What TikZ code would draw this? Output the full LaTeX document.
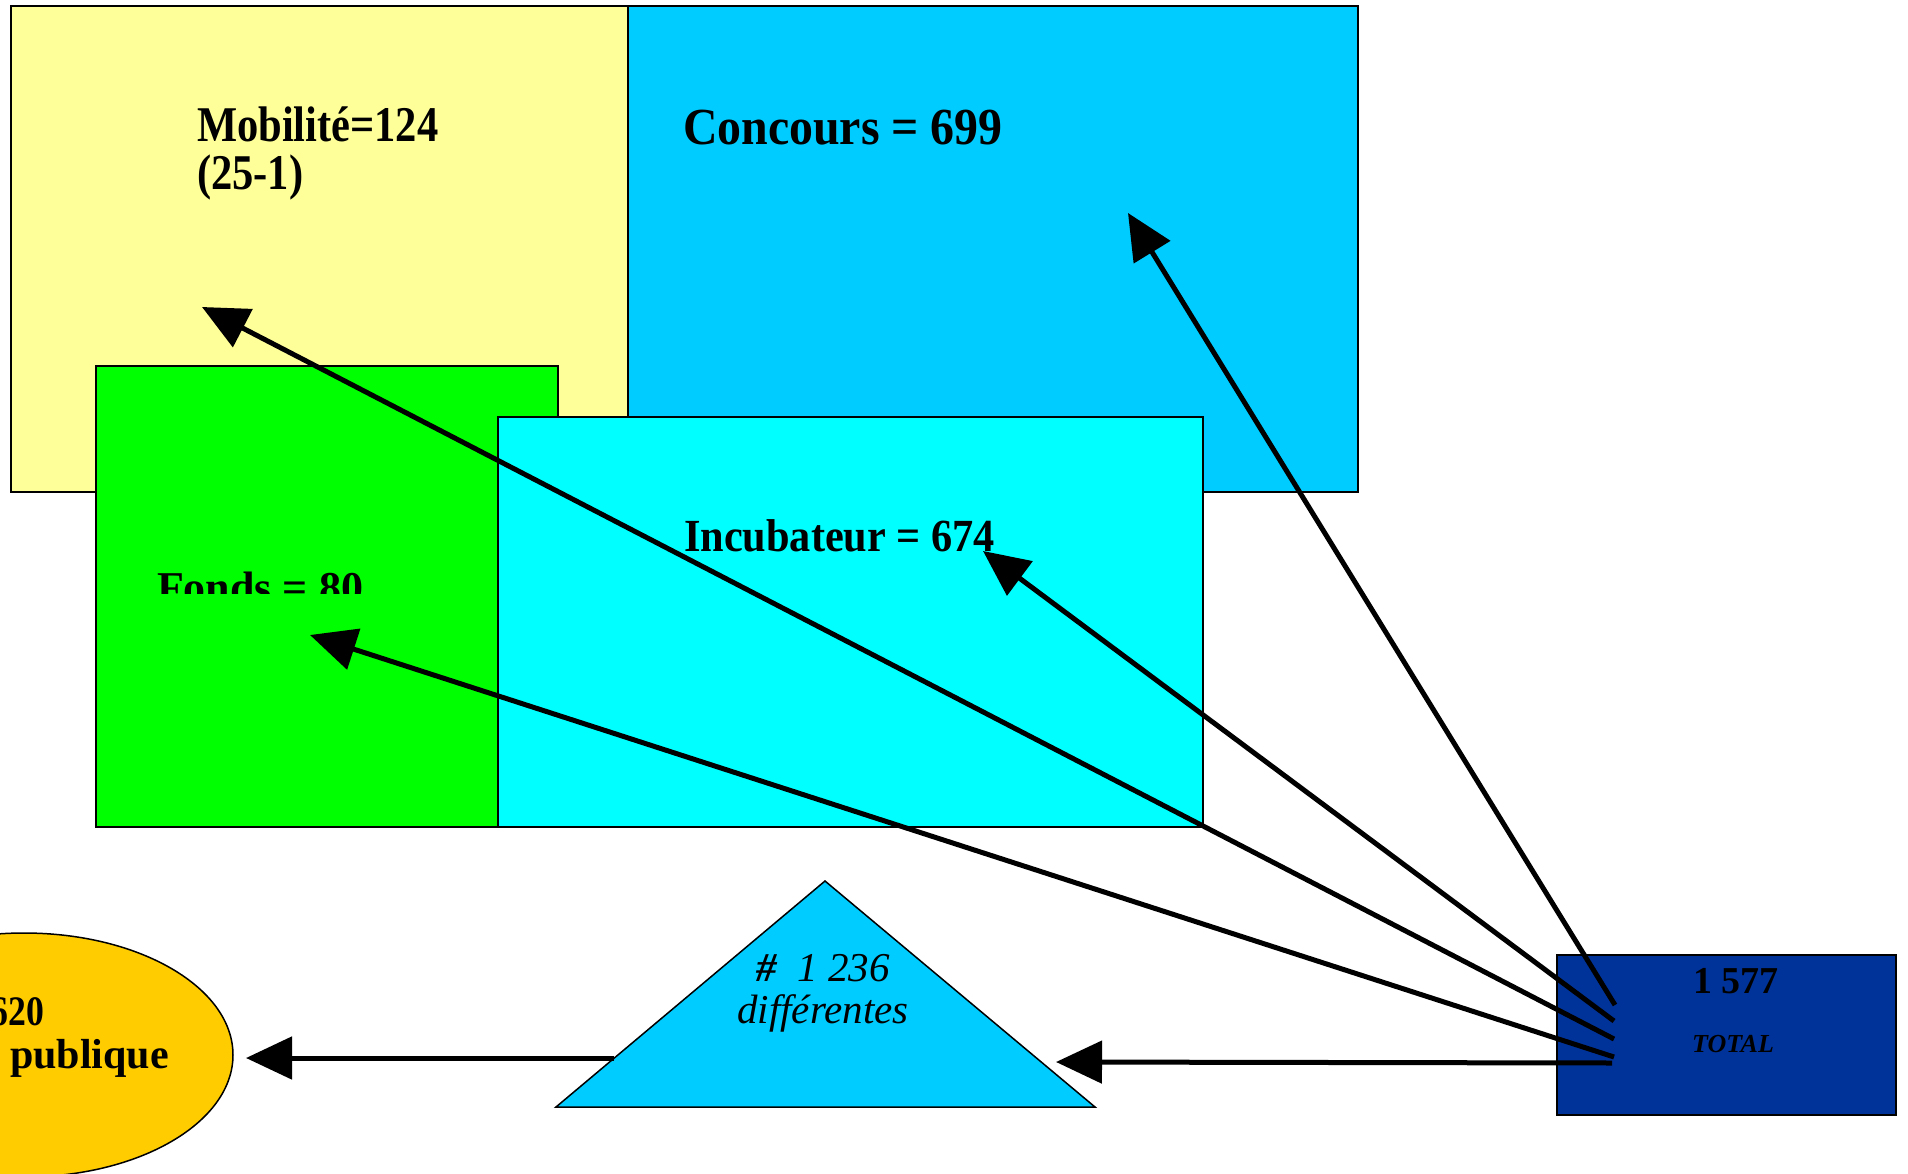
\documentclass[tikz,border=0pt]{standalone}
\usepackage{fontspec}
\setmainfont{Liberation Serif}
\newfontfamily\narrowA[FakeStretch=0.85]{Liberation Serif}
\newfontfamily\narrowB[FakeStretch=0.92]{Liberation Serif}
\usetikzlibrary{arrows.meta,shapes.geometric}
\definecolor{cYellow}{HTML}{FFFF99}
\definecolor{cConc}{HTML}{00CCFF}
\definecolor{cGreen}{HTML}{00FF00}
\definecolor{cCyan}{HTML}{00FFFF}
\definecolor{cDark}{HTML}{003399}
\definecolor{cGold}{HTML}{FFCC00}
\begin{document}
\begin{tikzpicture}[x=1pt,y=-1pt,
  box/.style={draw=black,line width=1.5pt,inner sep=0pt,outer sep=0pt,rectangle,anchor=north west},
  conn/.style={line width=5pt,-{Triangle[length=46pt,width=42pt]}},
  lbl/.style={inner sep=0pt,outer sep=0pt,anchor=base west},
  lblc/.style={inner sep=0pt,outer sep=0pt,anchor=base},
  lble/.style={inner sep=0pt,outer sep=0pt,anchor=base east}]
\useasboundingbox (0,0) rectangle (1908,1174);
\clip (0,0) rectangle (1908,1174);
\fill[white] (0,0) rectangle (1908,1174);

% boxes
\node[box,fill=cConc,minimum width=862pt,minimum height=486pt] (conc) at (496,6) {};
\node[box,fill=cYellow,minimum width=617pt,minimum height=486pt] (mob) at (11,6) {};
\node[box,fill=cGreen,minimum width=462pt,minimum height=461pt] (fonds) at (96,366) {};
\node[box,fill=cCyan,minimum width=705pt,minimum height=410pt] (incub) at (498,417) {};

% labels
\node[lbl,font=\narrowA\bfseries\fontsize{50}{50}\selectfont] (mobA) at (197,142) {Mobilité=124};
\node[lbl,font=\narrowA\bfseries\fontsize{50}{50}\selectfont] (mobB) at (197,190) {(25-1)};
\node[lbl,font=\narrowB\bfseries\fontsize{52}{52}\selectfont] (concT) at (683,145) {Concours = 699};
\node[lbl,font=\narrowB\bfseries\fontsize{46}{46}\selectfont] (incT) at (684,551) {Incubateur = 674};
\begin{scope}
\clip (96,366) rectangle (558,593);
\node[lbl,font=\bfseries\fontsize{44}{44}\selectfont] (fondsT) at (157,602) {Fonds = 80};
\end{scope}

% triangle
\coordinate (triL) at (556,1107);
\coordinate (triR) at (1095,1107);
\coordinate (triT) at (825,881);
\filldraw[fill=cConc,draw=black,line width=1.5pt] (triL) -- (triT) -- (triR) -- cycle;
\node[lblc,font=\itshape\fontsize{41}{41}\selectfont] (triA) at (823,981) {\textbf{\#}\ \ 1 236};
\node[lblc,font=\itshape\fontsize{41}{41}\selectfont] (triB) at (823,1023) {différentes};

% ellipse
\node[ellipse,draw=black,line width=1.5pt,fill=cGold,minimum width=418pt,minimum height=244pt,inner sep=0pt] (ell) at (24,1055) {};
\node[lble,font=\narrowA\bfseries\fontsize{42}{42}\selectfont] (ellA) at (44,1025) {620};
\node[lble,font=\bfseries\fontsize{42}{42}\selectfont] (ellB) at (169,1068) {e publique};

% total box
\node[box,fill=cDark,minimum width=339pt,minimum height=160pt] (tot) at (1557,955) {};
\node[lblc,font=\bfseries\fontsize{38}{38}\selectfont] (totA) at (1736,993) {1 577};
\node[lblc,font=\bfseries\itshape\fontsize{26}{26}\selectfont] (totB) at (1733,1052) {TOTAL};

% connector endpoints
\coordinate (s1) at (1615,1005);
\coordinate (s2) at (1614,1021);
\coordinate (s3) at (1614,1039);
\coordinate (s4) at (1614,1057);
\coordinate (s5) at (1612,1063);
\coordinate (t1) at (1128,213);
\coordinate (t2) at (983,551);
\coordinate (t3) at (202,307);
\coordinate (t4) at (310,635);
\coordinate (t5) at (1056,1062);
\coordinate (s6) at (614,1058);
\coordinate (t6) at (246,1058);

\draw[conn] (s1) -- (t1);
\draw[conn] (s2) -- (t2);
\draw[conn] (s3) -- (t3);
\draw[conn] (s4) -- (t4);
\draw[conn] (s5) -- (t5);
\draw[conn] (s6) -- (t6);
\end{tikzpicture}
\end{document}
